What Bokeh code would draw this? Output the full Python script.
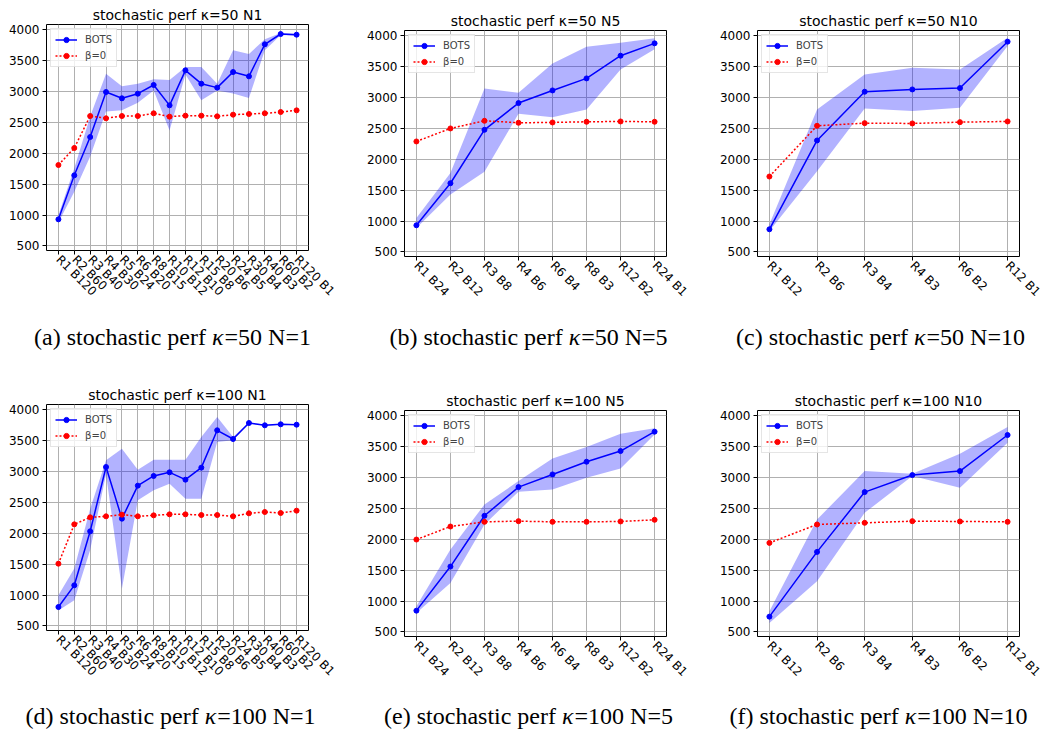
import math
from bokeh.plotting import figure
from bokeh.layouts import column, row
from bokeh.models import Range1d, FixedTicker, Legend, LegendItem, Title
from bokeh.core.properties import value
from bokeh.embed import file_html
from bokeh.resources import INLINE

# ---------------- data ----------------
labels_N1 = ["R1 B120", "R2 B60", "R3 B40", "R4 B30", "R5 B24", "R6 B20", "R8 B15", "R10 B12",
             "R12 B10", "R15 B8", "R20 B6", "R24 B5", "R30 B4", "R40 B3", "R60 B2", "R120 B1"]
labels_N5 = ["R1 B24", "R2 B12", "R3 B8", "R4 B6", "R6 B4", "R8 B3", "R12 B2", "R24 B1"]
labels_N10 = ["R1 B12", "R2 B6", "R3 B4", "R4 B3", "R6 B2", "R12 B1"]

k50_N1_bots = [932, 1645, 2266, 2995, 2893, 2968, 3109, 2779, 3346, 3130, 3066, 3319, 3249, 3768, 3935, 3924]
k50_N1_upper = [1000, 1760, 2600, 3290, 3090, 3130, 3200, 3190, 3400, 3400, 3130, 3670, 3610, 3850, 3950, 3940]
k50_N1_lower = [880, 1380, 1950, 2680, 2700, 2820, 3020, 2370, 3280, 2860, 3020, 2970, 2900, 3670, 3920, 3905]
k50_N1_beta0 = [1812, 2088, 2606, 2569, 2606, 2606, 2650, 2596, 2612, 2612, 2601, 2628, 2639, 2650, 2671, 2698]

k50_N5_bots = [933, 1614, 2480, 2913, 3118, 3313, 3681, 3881]
k50_N5_upper = [1050, 1780, 3150, 3080, 3556, 3827, 3892, 3962]
k50_N5_lower = [890, 1430, 1800, 2740, 2685, 2810, 3459, 3784]
k50_N5_beta0 = [2291, 2502, 2626, 2594, 2599, 2610, 2615, 2610]

k50_N10_bots = [868, 2307, 3097, 3134, 3156, 3908]
k50_N10_upper = [950, 2810, 3378, 3486, 3459, 3973]
k50_N10_lower = [840, 1809, 2826, 2783, 2837, 3838]
k50_N10_beta0 = [1723, 2545, 2588, 2583, 2604, 2615]

k100_N1_bots = [808, 1159, 2034, 3076, 2239, 2774, 2931, 2990, 2871, 3066, 3671, 3530, 3789, 3752, 3768, 3762]
k100_N1_upper = [1000, 1430, 2400, 3184, 3373, 3033, 3195, 3195, 3195, 3562, 3887, 3562, 3800, 3760, 3775, 3770]
k100_N1_lower = [750, 916, 1730, 2958, 1105, 2536, 2698, 2806, 2563, 2563, 3481, 3508, 3780, 3745, 3760, 3755]
k100_N1_beta0 = [1510, 2147, 2261, 2277, 2304, 2277, 2293, 2309, 2309, 2298, 2298, 2277, 2326, 2347, 2331, 2369]

k100_N5_bots = [846, 1560, 2383, 2848, 3053, 3259, 3432, 3746]
k100_N5_upper = [917, 1836, 2566, 2945, 3313, 3497, 3713, 3800]
k100_N5_lower = [808, 1295, 2242, 2772, 2810, 3000, 3151, 3702]
k100_N5_beta0 = [1998, 2209, 2285, 2296, 2285, 2285, 2291, 2318]

k100_N10_bots = [749, 1798, 2767, 3043, 3107, 3692]
k100_N10_upper = [835, 2323, 3107, 3064, 3389, 3822]
k100_N10_lower = [646, 1322, 2431, 3026, 2837, 3567]
k100_N10_beta0 = [1944, 2242, 2269, 2296, 2291, 2285]

y_ticks = [500, 1000, 1500, 2000, 2500, 3000, 3500, 4000]
legend_names = ["BOTS", "β=0"]

panels = [
    dict(title="stochastic perf κ=50 N1", labels=labels_N1, bots=k50_N1_bots, up=k50_N1_upper, lo=k50_N1_lower, b0=k50_N1_beta0,
         letter="a", kappa="50", N="1"),
    dict(title="stochastic perf κ=50 N5", labels=labels_N5, bots=k50_N5_bots, up=k50_N5_upper, lo=k50_N5_lower, b0=k50_N5_beta0,
         letter="b", kappa="50", N="5"),
    dict(title="stochastic perf κ=50 N10", labels=labels_N10, bots=k50_N10_bots, up=k50_N10_upper, lo=k50_N10_lower, b0=k50_N10_beta0,
         letter="c", kappa="50", N="10"),
    dict(title="stochastic perf κ=100 N1", labels=labels_N1, bots=k100_N1_bots, up=k100_N1_upper, lo=k100_N1_lower, b0=k100_N1_beta0,
         letter="d", kappa="100", N="1"),
    dict(title="stochastic perf κ=100 N5", labels=labels_N5, bots=k100_N5_bots, up=k100_N5_upper, lo=k100_N5_lower, b0=k100_N5_beta0,
         letter="e", kappa="100", N="5"),
    dict(title="stochastic perf κ=100 N10", labels=labels_N10, bots=k100_N10_bots, up=k100_N10_upper, lo=k100_N10_lower, b0=k100_N10_beta0,
         letter="f", kappa="100", N="10"),
]

# ---------------- layout ----------------
TOTAL_W = 1044
FRAME_W, FRAME_H = 262, 226
COL_LEFT = [46, 54, 57]        # left border of each column's figure
COL_WIDTH = [350, 350, 344]
ROW_H = 320
COL_TOP = [24, 30, 30]
Y0, Y1 = 427, 4089
SANS = "DejaVu Sans"
SERIF = "Liberation Serif"


def make_panel(d, col):
    n = len(d["labels"])
    xs = list(range(n))
    left = COL_LEFT[col]
    right = COL_WIDTH[col] - left - FRAME_W
    top = COL_TOP[col]
    bottom = ROW_H - top - FRAME_H
    p = figure(frame_width=FRAME_W, frame_height=FRAME_H,
               min_border_left=left, min_border_right=right,
               min_border_top=top, min_border_bottom=bottom,
               x_range=Range1d(-0.05 * (n - 1), 1.05 * (n - 1)),
               y_range=Range1d(Y0, Y1),
               toolbar_location=None, output_backend="svg")
    p.background_fill_color = "white"
    p.border_fill_color = "white"
    p.outline_line_color = "black"
    p.outline_line_width = 1

    t = Title(text=d["title"], align="center", text_font=SANS, text_font_size="14px",
              text_font_style="normal", text_color="black", standoff=4, offset=0)
    p.add_layout(t, "above")

    for ax in (p.xaxis, p.yaxis):
        ax.axis_line_color = None
        ax.major_tick_in = 0
        ax.major_tick_out = 4
        ax.major_tick_line_color = "black"
        ax.minor_tick_line_color = None
        ax.major_label_text_font = SANS
        ax.major_label_text_font_size = "12px"
        ax.major_label_text_color = "black"
        ax.major_label_standoff = 3
    p.xaxis.ticker = FixedTicker(ticks=xs)
    p.xaxis.major_label_overrides = {i: lab for i, lab in enumerate(d["labels"])}
    p.xaxis.major_label_orientation = -math.pi / 4
    p.yaxis.ticker = FixedTicker(ticks=y_ticks)

    p.xgrid.ticker = FixedTicker(ticks=xs)
    p.ygrid.ticker = FixedTicker(ticks=y_ticks)
    p.grid.grid_line_color = "#b0b0b0"
    p.grid.grid_line_width = 1

    p.varea(x=xs, y1=d["lo"], y2=d["up"], fill_color="blue", fill_alpha=0.3)
    l1 = p.line(xs, d["bots"], line_color="blue", line_width=1.5)
    s1 = p.scatter(xs, d["bots"], size=5, fill_color="blue", line_color="blue")
    l2 = p.line(xs, d["b0"], line_color="red", line_width=1.5, line_dash="2 2")
    s2 = p.scatter(xs, d["b0"], size=5, fill_color="red", line_color="red")

    legend = Legend(items=[LegendItem(label=legend_names[0], renderers=[l1, s1]),
                           LegendItem(label=legend_names[1], renderers=[l2, s2])],
                    location="top_left", margin=4, padding=4, spacing=3,
                    glyph_width=22, glyph_height=13, label_height=13, label_standoff=8,
                    label_text_font=SANS, label_text_font_size="10px",
                    border_line_color="#cccccc", border_line_width=1,
                    background_fill_color="white", background_fill_alpha=0.8)
    p.add_layout(legend)
    return p


TIMES_W = {'(': 333, ')': 333, 'a': 444, 'b': 500, 'c': 444, 'd': 500, 'e': 444, 'f': 333, 'h': 500,
           'i': 278, 'o': 500, 'p': 500, 'r': 333, 's': 389, 't': 278, ' ': 250, '=': 564, 'N': 722}


def tw(s, size):
    return sum(TIMES_W.get(ch, 500) for ch in s) / 1000.0 * size


CAP_SIZE = 24
KAPPA_W = 0.52 * CAP_SIZE


def make_caption(height, ds, centers, yc):
    c = figure(width=TOTAL_W, height=height, x_range=Range1d(0, TOTAL_W), y_range=Range1d(0, height),
               x_axis_type=None, y_axis_type=None, min_border=0,
               toolbar_location=None, output_backend="svg")
    c.outline_line_color = None
    c.background_fill_color = "white"
    c.border_fill_color = "white"
    px, pt, kx, sx, st = [], [], [], [], []
    for d, cx in zip(ds, centers):
        pre = "(%s) stochastic perf " % d["letter"]
        suf = "=%s N=%s" % (d["kappa"], d["N"])
        total = tw(pre, CAP_SIZE) + KAPPA_W + tw(suf, CAP_SIZE)
        x0 = cx - total / 2
        px.append(x0); pt.append(pre)
        kx.append(x0 + tw(pre, CAP_SIZE))
        sx.append(x0 + tw(pre, CAP_SIZE) + KAPPA_W); st.append(suf)
    ys = [yc] * len(ds)
    common = dict(text_font=value(SERIF), text_font_size=value("%dpx" % CAP_SIZE),
                  text_align="left", text_baseline="middle", text_color="black")
    c.text(x=px, y=ys, text=pt, **common)
    c.text(x=kx, y=ys, text=["κ"] * len(ds), text_font_style="italic", **common)
    c.text(x=sx, y=ys, text=st, **common)
    return c


row1 = [column(make_panel(panels[i], i)) for i in range(3)]
row2 = [column(make_panel(panels[3 + i], i)) for i in range(3)]

# caption 1 occupies y 320..380 (text centre at 336); caption 2 occupies 700..731 (centre 715)
cap1 = make_caption(60, panels[:3], [172, 528, 880], 60 - 16)
cap2 = make_caption(31, panels[3:], [170, 528, 878], 31 - 15)

layout = column(row(*row1, spacing=0), cap1, row(*row2, spacing=0), cap2, spacing=0)

open("out.html", "w").write(file_html(layout, INLINE))
